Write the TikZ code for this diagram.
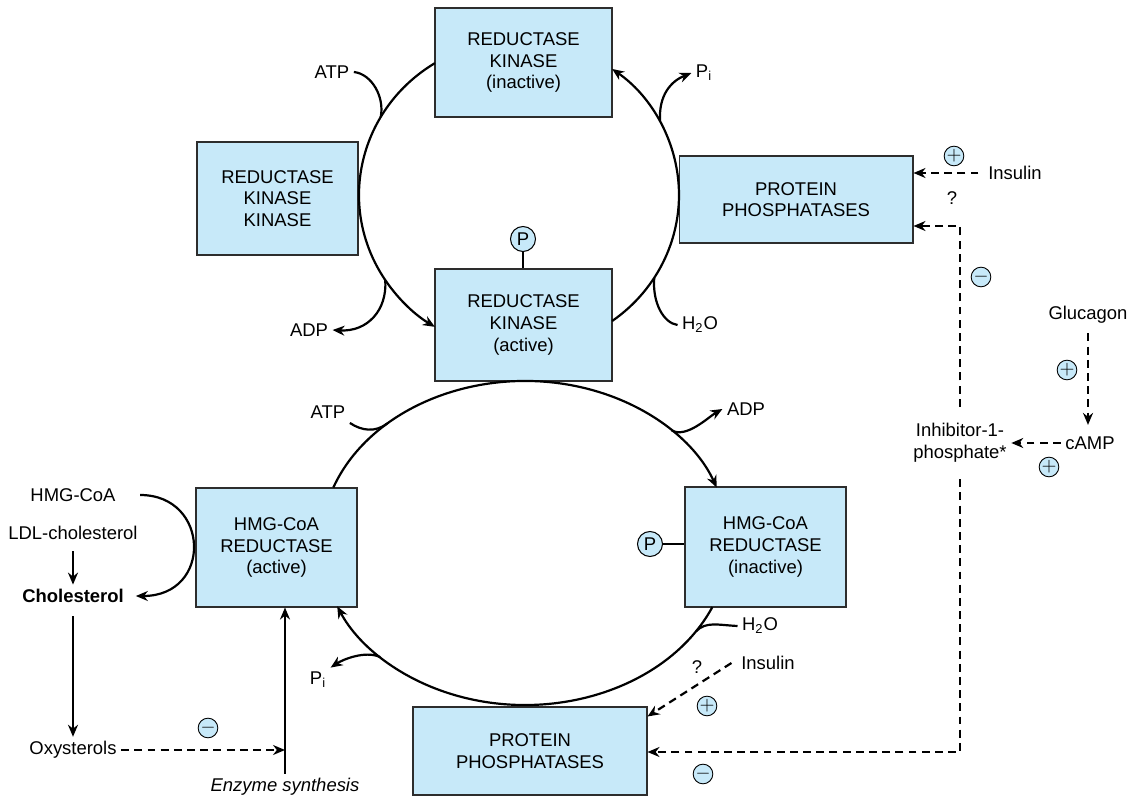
\documentclass[tikz,border=0pt]{standalone}
\usepackage{fontspec}
\setmainfont{Liberation Sans}
\usetikzlibrary{arrows.meta}
\definecolor{cajaazul}{RGB}{199,233,249}
\definecolor{bordegris}{RGB}{45,45,45}

\begin{document}
\begin{tikzpicture}[x=0.02cm, y=-0.02cm, >={Stealth[length=2.4mm, width=2mm]}, line width=1.25pt,
    every node/.style={font=\fontsize{10.5}{12.3}\selectfont, align=center, inner sep=2pt},
    caja/.style={draw=bordegris, fill=cajaazul, line width=0.6pt, inner sep=0pt},
    signo/.style={draw, fill=cajaazul, circle, line width=0.5pt, inner sep=0pt, minimum size=0.36cm},
    fos/.style={draw, fill=cajaazul, circle, line width=0.6pt, inner sep=0pt, minimum size=0.5cm},
    trazos/.style={dash pattern=on 4.5pt off 3pt}]
  \useasboundingbox (0,0) rectangle (1137,797);
  % cajas de enzimas
  \node[caja, minimum width=3.54cm, minimum height=2.18cm] (rki) at (523.5,62.5) {REDUCTASE\\KINASE\\(inactive)};
  \node[caja, minimum width=3.22cm, minimum height=2.26cm] (rkk) at (277.5,198.5) {REDUCTASE\\KINASE\\KINASE};
  \node[caja, minimum width=4.68cm, minimum height=1.74cm] (ppt) at (796,199.5) {PROTEIN\\PHOSPHATASES};
  \node[caja, minimum width=3.54cm, minimum height=2.24cm] (rka) at (523.5,325) {REDUCTASE\\KINASE\\(active)};
  \node[caja, minimum width=3.22cm, minimum height=2.38cm] (hmga) at (276.5,547.5) {HMG-CoA\\REDUCTASE\\(active)};
  \node[caja, minimum width=3.22cm, minimum height=2.40cm] (hmgi) at (765.5,547) {HMG-CoA\\REDUCTASE\\(inactive)};
  \node[caja, minimum width=4.68cm, minimum height=1.76cm] (ppb) at (530,751) {PROTEIN\\PHOSPHATASES};
  % grupos fosfato
  \node[fos] (p1) at (523,239) {P};
  \draw[line width=0.6pt] (p1) -- (p1 |- rka.north);
  \node[fos] (p2) at (650,544) {P};
  \draw[line width=0.6pt] (p2) -- (p2 -| hmgi.west);
  % ciclo superior
  \coordinate (c1) at (519,195);
  \coordinate (k1) at ([shift={(238.3:160 and 155)}]c1);
  \coordinate (k2) at ([shift={(54.4:160 and 155)}]c1);
  \draw[->] (k1) arc[start angle=238.3, end angle=121.7, x radius=160, y radius=155];
  \draw[->] (k2) arc[start angle=54.4, end angle=-54.4, x radius=160, y radius=155];
  \node (atp1) at (332,72) {ATP};
  \node (adp1) at (309,330) {ADP};
  \node (pi1) at (704,73) {P\textsubscript{i}};
  \node (h2o1) at (700,325) {H\textsubscript{2}O};
  \coordinate (j1) at ([shift={(210.2:160 and 155)}]c1);
  \coordinate (j2) at ([shift={(146.7:160 and 155)}]c1);
  \coordinate (j3) at ([shift={(-28.1:160 and 155)}]c1);
  \coordinate (j4) at ([shift={(32.3:160 and 155)}]c1);
  \draw (atp1.east) .. controls +(18,2) and +(4,-20) .. (j1);
  \draw[->] (j2) .. controls +(2,30) and +(35,2) .. (adp1.east);
  \draw[->] (j3) .. controls +(-2,-27) and +(-20,8) .. (pi1.west);
  \draw (h2o1.west) .. controls +(-14,-2) and +(-2,25) .. (j4);
  % ciclo inferior
  \coordinate (c2) at (525,543);
  \coordinate (k3) at ([shift={(200:204 and 162)}]c2);
  \coordinate (k4) at ([shift={(23.3:204 and 162)}]c2);
  \draw[->] (k3) arc[start angle=200, end angle=340, x radius=204, y radius=162];
  \draw[->] (k4) arc[start angle=23.3, end angle=157, x radius=204, y radius=162];
  \node (atp2) at (328,412) {ATP};
  \node (adp2) at (746,409) {ADP};
  \node (h2o2) at (760,626) {H\textsubscript{2}O};
  \node (pi2) at (318,680) {P\textsubscript{i}};
  \coordinate (j5) at ([shift={(227.5:204 and 162)}]c2);
  \coordinate (j6) at ([shift={(316:204 and 162)}]c2);
  \coordinate (j7) at ([shift={(33:204 and 162)}]c2);
  \coordinate (j8) at ([shift={(135.2:204 and 162)}]c2);
  \draw (atp2.south east) .. controls +(12,8) and +(-12,9) .. (j5);
  \draw[->] (j6) .. controls +(15,8) and +(-14,8) .. (adp2.west);
  \draw (h2o2.west) .. controls +(-20,-1) and +(10,-10) .. (j7);
  \draw[->] (j8) .. controls +(-15,-7) and +(12,-8) .. (pi2.north east);
  % colesterol
  \node (hmgcoa) at (73,495) {HMG-CoA};
  \node (ldl) at (73,533) {LDL-cholesterol};
  \node (chol) at (73,596) {\textbf{Cholesterol}};
  \node (oxy) at (73,750) {Oxysterols};
  \node (enz) at (285,787) {\textit{Enzyme synthesis}};
  \draw[->] ([xshift=0.4cm]hmgcoa.east) .. controls +(70,0) and +(77,0) .. ([xshift=0.15cm]chol.east);
  \draw[->, shorten <=4pt] (ldl) -- (chol);
  \draw[->, shorten <=5pt] (chol) -- (oxy);
  \draw[->] (enz.north) -- (enz.north |- hmga.south);
  \draw[->, trazos] (oxy.east) -- (oxy.east -| enz.north);
  \node[signo] (m1) at (208,728) {$-$};
  % regulacion hormonal
  \node (ins1) at (1015,173) {Insulin};
  \node[signo] (s1) at (954,156) {$+$};
  \node (q1) at (952,198) {?};
  \draw[->, trazos] ([xshift=-3pt]ins1.west) -- (ins1.west -| ppt.east);
  \node (inh) at (960,443) {Inhibitor-1-\\phosphate*};
  \node (camp) at (1090,443) {cAMP};
  \node (gluc) at (1088,315) {Glucagon};
  \coordinate (e1) at (960,226);
  \coordinate (e2) at (960,752);
  \draw[->, trazos, shorten <=7pt] (inh) -- (e1) -- (e1 -| ppt.east);
  \draw[->, trazos, shorten <=7pt] (inh) -- (e2) -- (e2 -| ppb.east);
  \node[signo] (m2) at (981,277) {$-$};
  \node[signo] (m3) at (703,774) {$-$};
  \draw[->, trazos] (camp) -- (inh);
  \node[signo] (s2) at (1049,467) {$+$};
  \draw[->, trazos, shorten <=3pt, shorten >=4pt] (gluc) -- (gluc |- camp.north);
  \node[signo] (s3) at (1067,370) {$+$};
  \node (ins2) at (768,663) {Insulin};
  \node (q2) at (697,667) {?};
  \node[signo] (s4) at (707,706) {$+$};
  \draw[->, trazos] ([xshift=-3pt]ins2.west) -- ([yshift=-0.2cm]ppb.north east);
\end{tikzpicture}
\end{document}
